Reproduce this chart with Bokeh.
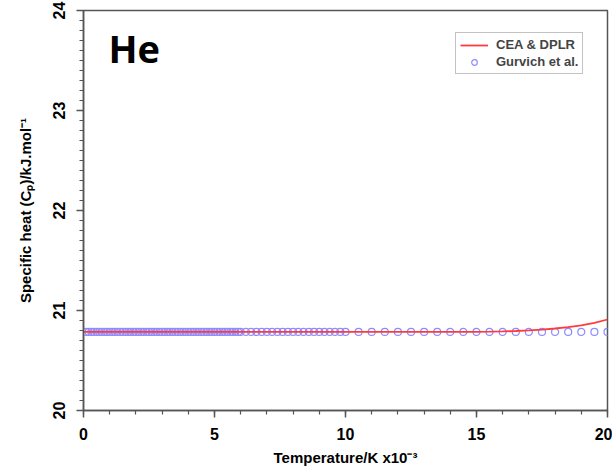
from bokeh.plotting import figure
from bokeh.embed import file_html
from bokeh.resources import INLINE
from bokeh.models import Legend, LegendItem, FixedTicker, Label

# Gurvich et al. tabulated points (temperature in kK, Cp in J/mol/K)
gurvich_T = ([round(0.1 * i, 1) for i in range(1, 61)]
             + [round(6.0 + 0.2 * i, 1) for i in range(1, 21)]
             + [round(10.0 + 0.5 * i, 1) for i in range(1, 21)])
gurvich_cp = [20.786] * len(gurvich_T)

# CEA & DPLR curve
cea_T = [0, 1, 2, 3, 4, 5, 6, 7, 8, 9, 10, 11, 12, 13, 14, 15,
         15.5, 16, 16.5, 17, 17.5, 18, 18.5, 19, 19.5, 20]
cea_cp = [20.786] * 16 + [20.788, 20.791, 20.795, 20.801, 20.809,
                          20.82, 20.834, 20.852, 20.876, 20.91]

x_major = [0, 5, 10, 15, 20]
y_major = [20, 21, 22, 23, 24]

FONT = "Liberation Sans"

p = figure(width=612, height=471, output_backend="svg", toolbar_location=None,
           x_range=(0, 20), y_range=(20, 24),
           min_border_left=83, min_border_right=5, min_border_top=10, min_border_bottom=61)
p.grid.visible = False
p.outline_line_color = "#555555"
p.outline_line_width = 1.5
p.background_fill_color = "white"
p.border_fill_color = "white"

r_g = p.scatter(gurvich_T, gurvich_cp, marker="circle", size=7, fill_color=None,
                line_color="#8c8cff", line_width=1.2)
r_c = p.line(cea_T, cea_cp, line_color="#ff3b3b", line_width=1.8)

xa = p.xaxis[0]
xa.ticker = FixedTicker(ticks=x_major, minor_ticks=list(range(0, 21)))
ya = p.yaxis[0]
ya.ticker = FixedTicker(ticks=y_major, minor_ticks=[round(20 + 0.1 * i, 1) for i in range(41)])
for ax in (xa, ya):
    ax.axis_line_color = "#555555"
    ax.axis_line_width = 1.5
    ax.major_tick_line_color = "#555555"
    ax.minor_tick_line_color = "#555555"
    ax.major_tick_line_width = 1.5
    ax.minor_tick_line_width = 1.2
    ax.major_tick_out = 7
    ax.major_tick_in = 0
    ax.minor_tick_out = 4
    ax.minor_tick_in = 0
    ax.major_label_text_font = FONT
    ax.major_label_text_font_style = "bold"
    ax.major_label_text_font_size = "16px"
    ax.major_label_text_color = "black"
    ax.axis_label_text_font = FONT
    ax.axis_label_text_font_style = "bold"
    ax.axis_label_text_font_size = "15px"
    ax.axis_label_text_color = "black"

xa.axis_label = "Temperature/K x10\u207b\u00b3"
xa.major_label_standoff = 10
xa.axis_label_standoff = 6
ya.axis_label = "Specific heat (C\u209a)/kJ.mol\u207b\u00b9"
ya.major_label_orientation = "vertical"
ya.major_label_standoff = 12
ya.axis_label_standoff = 16

legend = Legend(items=[LegendItem(label="CEA & DPLR", renderers=[r_c]),
                       LegendItem(label="Gurvich et al.", renderers=[r_g])],
                location="top_right")
legend.label_text_font = FONT
legend.label_text_font_style = "bold"
legend.label_text_font_size = "13px"
legend.label_height = 14
legend.glyph_height = 14
legend.glyph_width = 28
legend.spacing = 2
legend.padding = 4
legend.margin = 0
legend.border_line_color = "#888888"
legend.border_line_width = 1.2
legend.label_standoff = 8
p.add_layout(legend, "center")
legend.location = (372, 336)

p.add_layout(Label(x=0.95, y=23.63, text="He", text_baseline="alphabetic",
                   text_font="Open Sans", text_font_style="bold", text_font_size="38px",
                   text_color="black"))

open("out.html", "w").write(file_html(p, INLINE))
